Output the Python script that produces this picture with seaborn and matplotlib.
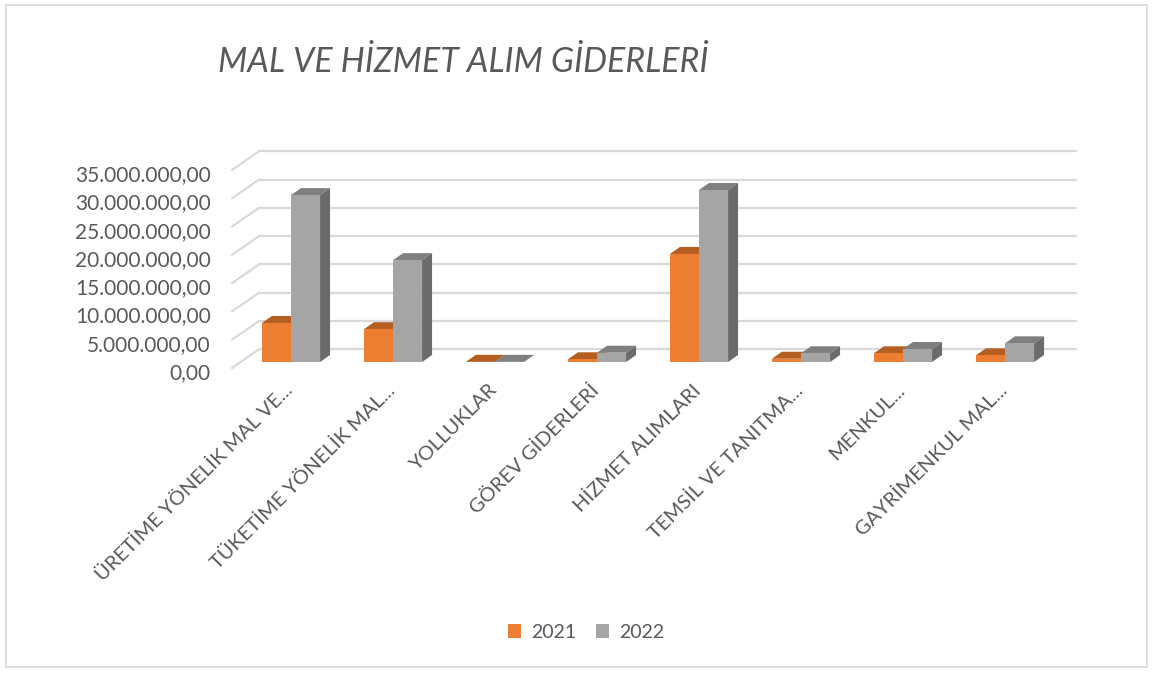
import numpy as np
import pandas as pd
import matplotlib
matplotlib.use('Agg')
import matplotlib.pyplot as plt
import seaborn as sns
from matplotlib.patches import Polygon, Rectangle
from matplotlib.transforms import ScaledTranslation

sns.set_theme(style='white')
plt.rcParams['font.family'] = ['Lato', 'DejaVu Sans']

# data
kalemler = ['ÜRETİME YÖNELİK MAL VE...', 'TÜKETİME YÖNELİK MAL...', 'YOLLUKLAR',
            'GÖREV GİDERLERİ', 'HİZMET ALIMLARI', 'TEMSİL VE TANITMA...',
            'MENKUL...', 'GAYRİMENKUL MAL...']
yil_2021 = [6.9e6, 5.8e6, 0.03e6, 0.48e6, 19.1e6, 0.58e6, 1.54e6, 1.18e6]
yil_2022 = [29.5e6, 18.0e6, 0.03e6, 1.64e6, 30.4e6, 1.54e6, 2.3e6, 3.3e6]
yillar = ['2021', '2022']
y_ticks = [0, 5e6, 10e6, 15e6, 20e6, 25e6, 30e6, 35e6]

df = pd.DataFrame({
    'kalem': kalemler * 2,
    'tutar': yil_2021 + yil_2022,
    'yil': [yillar[0]] * len(kalemler) + [yillar[1]] * len(kalemler),
})

W, H = 1153, 675
fig = plt.figure(figsize=(W / 100, H / 100), dpi=100)
ax = fig.add_axes([240 / W, 313 / H, 816 / W, 198 / H])
ax.set_facecolor('none')

sns.barplot(data=df, x='kalem', y='tutar', hue='yil', palette=['#ED7D31', '#A5A5A5'],
            width=0.57, gap=0, saturation=1, ax=ax, edgecolor='none', zorder=3)
ax.set_xlim(-0.5, 7.5)
ax.set_ylim(0, 35e6)

# pixel -> data helpers
p0 = ax.transData.transform((0, 0))
p1 = ax.transData.transform((1, 1e6))
sx = p1[0] - p0[0]
sy = (p1[1] - p0[1]) / 1e6
def dx(px): return px / sx
def dy(px): return px / sy

grid_c = '#d9d9d9'
# back wall gridlines + diagonal side wall lines
for v in y_ticks:
    ax.plot([-0.5 + dx(19), 7.5 + dx(20)], [v + dy(12.7)] * 2, color=grid_c, lw=1.6,
            zorder=0, clip_on=False)
    ax.plot([-0.5 - dx(8), -0.5 + dx(19)], [v - dy(6), v + dy(12.7)], color=grid_c, lw=1.6,
            zorder=0, clip_on=False)

# fake 3d depth on each bar
ddx, ddy = dx(10), dy(7)
shade = {'#ED7D31': ('#B55E22', '#9C4E1A'), '#A5A5A5': ('#7F7F7F', '#6B6B6B')}
for p in ax.patches:
    w = p.get_width()
    if w <= 0:
        continue
    x0, h = p.get_x(), p.get_height()
    fc = matplotlib.colors.to_hex(p.get_facecolor()).upper()
    top_c, side_c = shade.get(fc, ('#7F7F7F', '#6B6B6B'))
    ax.add_patch(Polygon([(x0, h), (x0 + w, h), (x0 + w + ddx, h + ddy), (x0 + ddx, h + ddy)],
                         closed=True, fc=top_c, ec='none', zorder=2, clip_on=False))
    ax.add_patch(Polygon([(x0 + w, 0), (x0 + w + ddx, ddy), (x0 + w + ddx, h + ddy), (x0 + w, h)],
                         closed=True, fc=side_c, ec='none', zorder=2, clip_on=False))

sns.despine(ax=ax, left=True, bottom=True)
ax.grid(False)
ax.set_xlabel('')
ax.set_ylabel('')

def tr_fmt(v):
    s = f'{v:,.2f}'
    return s.replace(',', 'X').replace('.', ',').replace('X', '.')

ax.set_yticks(y_ticks)
ax.set_yticklabels([tr_fmt(v) for v in y_ticks])
ax.tick_params(axis='y', length=0, pad=21, labelsize=15, labelcolor='#595959')
for lab in ax.get_yticklabels():
    lab.set_transform(lab.get_transform() + ScaledTranslation(0, -6.5 / 72, fig.dpi_scale_trans))

ax.set_xticks(range(len(kalemler)))
ax.set_xticklabels(kalemler, rotation=45, ha='right', rotation_mode='anchor')
ax.tick_params(axis='x', length=0, pad=14, labelsize=14.5, labelcolor='#595959')
for lab in ax.get_xticklabels():
    lab.set_transform(lab.get_transform() + ScaledTranslation(-5 / 72, 0, fig.dpi_scale_trans))

sns.move_legend(ax, loc='center', bbox_to_anchor=(586 / W, 43 / H),
                bbox_transform=fig.transFigure, ncol=2, frameon=False, title=None,
                fontsize=14, handlelength=0.7, handleheight=0.7,
                columnspacing=1.0, handletextpad=0.5)
for t in ax.get_legend().get_texts():
    t.set_color('#595959')

fig.text(218 / W, 1 - 62 / H, 'MAL VE HİZMET ALIM GİDERLERİ', ha='left', va='center',
         fontsize=24.5, style='italic', color='#595959')

fig.patches.append(Rectangle((6 / W, 8 / H), 1141 / W, 662 / H, transform=fig.transFigure,
                             fill=False, ec='#d9d9d9', lw=1.2))

fig.savefig('out.png', dpi=100, facecolor='white')
